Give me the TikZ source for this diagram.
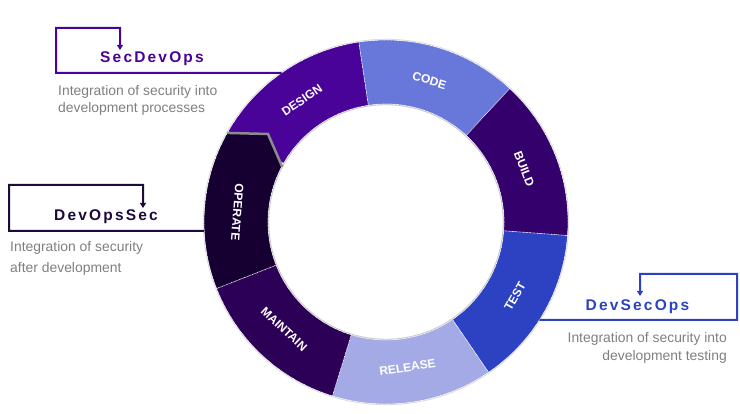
\documentclass[tikz,border=0pt]{standalone}
\usepackage{fontspec}
\setmainfont{Liberation Sans}
\newfontfamily\titlefont[LetterSpace=14]{Liberation Sans}
\usetikzlibrary{arrows.meta,calc}
\definecolor{cdesign}{HTML}{4A0398}
\definecolor{ccode}{HTML}{6878DA}
\definecolor{cbuild}{HTML}{34006C}
\definecolor{ctest}{HTML}{2C42C3}
\definecolor{crelease}{HTML}{A3AAE6}
\definecolor{cmaintain}{HTML}{2D0058}
\definecolor{coperate}{HTML}{160032}
\definecolor{cdops}{HTML}{1C0B3A}
\definecolor{descgray}{HTML}{7F7F7F}
\newcommand\ringseg[3]{%
  \fill[#3] (#1:182) arc[start angle=#1,end angle=#2,radius=182] -- (#2:118)
    arc[start angle=#2,end angle=#1,radius=118] -- cycle;}
\begin{document}
\begin{tikzpicture}[x=1pt,y=1pt,
  seglabel/.style={text=white,font=\fontsize{12}{13}\selectfont\bfseries,inner sep=0pt},
  titlelabel/.style={font=\titlefont\fontsize{15.5}{18}\selectfont\bfseries,inner sep=0pt},
  desc/.style={text=descgray,inner sep=0pt},
  callout/.style={line width=2pt,-{Triangle[length=5pt,width=6pt]}},
  segborder/.style={white,line width=0.7pt,dash pattern=on 0.7pt off 0.7pt},
]
\useasboundingbox (0,0) rectangle (740,414);
\begin{scope}[shift={(386,192)}]
  \ringseg{150.03}{98.6}{cdesign}
  \ringseg{98.6}{47.17}{ccode}
  \ringseg{47.17}{-4.26}{cbuild}
  \ringseg{-4.26}{-55.69}{ctest}
  \ringseg{-55.69}{-107.11}{crelease}
  \ringseg{-107.11}{-158.54}{cmaintain}
  \fill[coperate] (201.46:182) arc[start angle=201.46,end angle=150.7,radius=182]
    -- (-118,88) -- (152:118) arc[start angle=152,end angle=201.46,radius=118] -- cycle;
  \draw[black!22,line width=1.2pt] (0,0) circle[radius=117.4];
  \draw[black!15,line width=1pt] (0,0) circle[radius=182.6];
  \draw[segborder] (0,0) circle[radius=182];
  \draw[segborder] (0,0) circle[radius=118];
  \foreach \b in {98.6,47.17,-4.26,-55.69,-107.11,-158.54}
    \draw[segborder] (\b:118) -- (\b:182);
  \draw[black!45,line width=2.5pt,line join=miter] (150.7:182) -- (-118,88) -- (152:117.5);
  \node[seglabel,rotate=34.3] (design) at (124.6:148) {DESIGN};
  \node[seglabel,rotate=-17.1] (code) at (72.9:148) {CODE};
  \node[seglabel,rotate=-68.5] (build) at (21.0:148) {BUILD};
  \node[seglabel,rotate=60] (test) at (-30:149) {TEST};
  \node[seglabel,rotate=8.6] (release) at (-81.6:147) {RELEASE};
  \node[seglabel,rotate=-42.8] (maintain) at (-133.5:148) {MAINTAIN};
  \node[seglabel,rotate=-94.3] (operate) at (176.2:149) {OPERATE};
  \coordinate (rsec) at (125.04:182);
  \coordinate (rops) at (182.83:182);
  \coordinate (rdev) at (-32.58:182);
\end{scope}
% SecDevOps
\node[titlelabel,text=cdesign] (secdevops) at (152,355) {SecDevOps};
\coordinate (sbl) at (56,341);
\coordinate (stl) at (56,386);
\coordinate (str) at (120,386);
\coordinate (send) at (120,364);
\draw[callout,cdesign] (rsec) -- (sbl) -- (stl) -- (str) -- (send);
\node[desc,anchor=base west,align=left,font=\fontsize{13.9}{17.3}\selectfont] (secdesc) at (58,301)
  {Integration of security into\\development processes};
% DevOpsSec
\node[titlelabel,text=cdops] (devopssec) at (106,197) {DevOpsSec};
\coordinate (obl) at (9,183);
\coordinate (otl) at (9,229);
\coordinate (otr) at (143,229);
\coordinate (oend) at (143,206);
\draw[callout,cdops] (rops) -- (obl) -- (otl) -- (otr) -- (oend);
\node[desc,anchor=base west,align=left,font=\fontsize{13.9}{21}\selectfont] (opsdesc) at (10,141)
  {Integration of security\\after development};
% DevSecOps
\node[titlelabel,text=ctest] (devsecops) at (637.5,107) {DevSecOps};
\coordinate (dbr) at (737,94);
\coordinate (dtr) at (737,140);
\coordinate (dtl) at (640,140);
\coordinate (dend) at (640,118);
\draw[callout,ctest] (rdev) -- (dbr) -- (dtr) -- (dtl) -- (dend);
\node[desc,anchor=base east,align=right,font=\fontsize{13.9}{17.5}\selectfont] (devdesc) at (727,53.5)
  {Integration of security into\\development testing};
\end{tikzpicture}
\end{document}
